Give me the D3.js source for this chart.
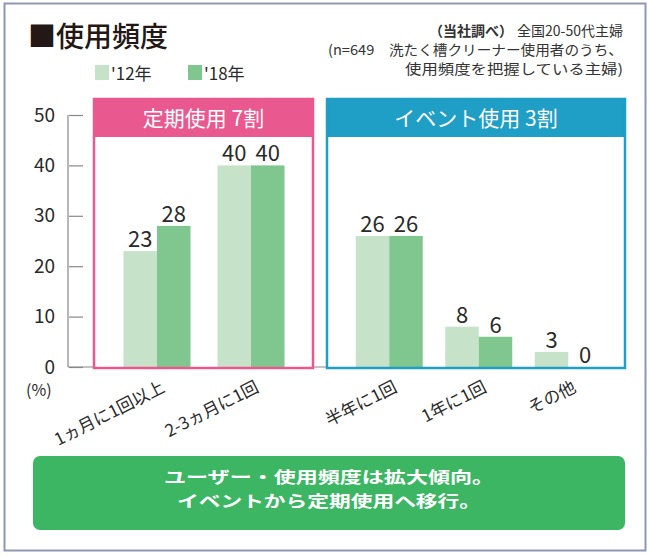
<!DOCTYPE html>
<html><head><meta charset="utf-8">
<script src="https://cdn.jsdelivr.net/npm/d3@7"></script>
<style>
html,body{margin:0;padding:0;background:#fff;}
svg{display:block;font-family:"Noto Sans CJK JP","Noto Sans",sans-serif;}
</style></head>
<body>
<svg id="chart" width="650" height="556"></svg>
<script>
// ---- data ----
const categories = ["1ヵ月に1回以上", "2-3ヵ月に1回", "半年に1回", "1年に1回", "その他"];
const panelCats = [["1ヵ月に1回以上", "2-3ヵ月に1回"], ["半年に1回", "1年に1回", "その他"]];
const panelTitles = ["定期使用 7割", "イベント使用 3割"];
const series = ["'12年", "'18年"];
const values12 = [23, 40, 26, 8, 3];
const values18 = [28, 40, 26, 6, 0];
const yTicks = [0, 10, 20, 30, 40, 50];
const titleText = "■使用頻度";
const noteSource = "（当社調べ）";
const noteLines = ["全国20-50代主婦", "(n=649　洗たく槽クリーナー使用者のうち、", "使用頻度を把握している主婦)"];
const messageLines = ["ユーザー・使用頻度は拡大傾向。", "イベントから定期使用へ移行。"];

// ---- styles ----
const seriesColors = ["#c6e3c9", "#80c68f"];
const panelColors = ["#e9588f", "#1f9ec6"];
const textColor = "#2a2a2a";

const svg = d3.select("#chart");

// outer frame
svg.append("rect").attr("x", 4.5).attr("y", 3.5).attr("width", 641).attr("height", 547)
  .attr("fill", "#fff").attr("stroke", "#8e98b2").attr("stroke-width", 2);

// title
svg.append("text").attr("x", 28).attr("y", 47).attr("font-size", 28).attr("font-weight", 500)
  .attr("fill", "#231815").text(titleText);

// legend
const legX = [95, 188];
series.forEach((s, i) => {
  svg.append("rect").attr("x", legX[i]).attr("y", 65).attr("width", 14).attr("height", 15)
    .attr("fill", seriesColors[i]);
  svg.append("text").attr("x", legX[i] + 16).attr("y", 80).attr("font-size", 17)
    .attr("fill", textColor).text(s);
});

// note (right)
const noteFs = 14;
const n1 = svg.append("text").attr("x", 623).attr("y", 36).attr("font-size", noteFs)
  .attr("text-anchor", "end").attr("fill", "#333").text(noteLines[0]);
const w1 = n1.node().getComputedTextLength();
svg.append("text").attr("x", 623 - w1 - 4).attr("y", 36).attr("font-size", noteFs).attr("font-weight", 700)
  .attr("text-anchor", "end").attr("fill", "#333").text(noteSource);
svg.append("text").attr("x", 623).attr("y", 55).attr("font-size", noteFs)
  .attr("text-anchor", "end").attr("fill", "#333")
  .attr("textLength", 295).attr("lengthAdjust", "spacingAndGlyphs").text(noteLines[1]);
svg.append("text").attr("x", 623).attr("y", 74).attr("font-size", noteFs)
  .attr("text-anchor", "end").attr("fill", "#333")
  .attr("textLength", 218).attr("lengthAdjust", "spacingAndGlyphs").text(noteLines[2]);

// scales
const y = d3.scaleLinear().domain([0, 50]).range([367, 115]);
const x0s = [
  d3.scaleBand().domain(panelCats[0]).range([110, 298]),
  d3.scaleBand().domain(panelCats[1]).range([344.5, 613])
];
const xs = d3.scaleBand().domain(series).range([-33.5, 33.5]);
const cx = c => { const s = panelCats[0].includes(c) ? x0s[0] : x0s[1]; return s(c) + s.bandwidth() / 2; };

// y axis
svg.append("line").attr("x1", 68).attr("x2", 68).attr("y1", y(50)).attr("y2", y(0))
  .attr("stroke", "#888").attr("stroke-width", 1.2);
const yAxis = d3.axisLeft(y).tickValues(yTicks).tickSize(14).tickPadding(14);
const gy = svg.append("g").attr("transform", "translate(83,0)").call(yAxis);
gy.select(".domain").remove();
gy.selectAll(".tick line").attr("stroke", "#888").attr("stroke-width", 1.2);
gy.selectAll(".tick text").attr("font-size", 19).attr("fill", textColor)
  .attr("font-family", "'Noto Sans CJK JP',sans-serif");
svg.append("text").attr("x", 26).attr("y", 396).attr("font-size", 16).attr("fill", textColor).text("(%)");

// baseline
svg.append("line").attr("x1", 68).attr("x2", 625).attr("y1", y(0)).attr("y2", y(0))
  .attr("stroke", "#888").attr("stroke-width", 1.2);

// panels
const panelBox = [[94, 313], [327, 625]];
panelBox.forEach((b, i) => {
  svg.append("rect").attr("x", b[0]).attr("y", 99).attr("width", b[1] - b[0]).attr("height", y(0) + 1 - 99)
    .attr("fill", "#fff");
  svg.append("rect").attr("x", b[0]).attr("y", 99).attr("width", b[1] - b[0]).attr("height", 38)
    .attr("fill", panelColors[i]);
  svg.append("text").attr("x", (b[0] + b[1]) / 2).attr("y", 126).attr("text-anchor", "middle")
    .attr("font-size", 21).attr("fill", "#fff").text(panelTitles[i]);
});

// bars
const valsBySeries = [values12, values18];
categories.forEach((c, ci) => {
  series.forEach((s, si) => {
    const v = valsBySeries[si][ci];
    const bx = cx(c) + xs(s);
    svg.append("rect").attr("x", bx).attr("y", y(v)).attr("width", xs.bandwidth())
      .attr("height", y(0) - y(v)).attr("fill", seriesColors[si]);
    svg.append("text").attr("x", bx + xs.bandwidth() / 2).attr("y", y(v) - 4)
      .attr("text-anchor", "middle").attr("font-size", 22).attr("fill", textColor).text(v);
  });
});

// panel borders on top
panelBox.forEach((b, i) => {
  svg.append("rect").attr("x", b[0]).attr("y", 99).attr("width", b[1] - b[0]).attr("height", y(0) + 1 - 99)
    .attr("fill", "none").attr("stroke", panelColors[i]).attr("stroke-width", 2.5);
});

// category labels
categories.forEach(c => {
  const ax = cx(c) + 9, ay = 391;
  svg.append("text").attr("transform", `translate(${ax},${ay}) rotate(-27)`)
    .attr("text-anchor", "end").attr("font-size", 17).attr("fill", textColor).text(c);
});

// message box
svg.append("rect").attr("x", 33).attr("y", 456).attr("width", 592).attr("height", 74).attr("rx", 7)
  .attr("fill", "#3db664");
messageLines.forEach((t, i) => {
  svg.append("text").attr("x", 329).attr("y", 482.5 + i * 24).attr("text-anchor", "middle")
    .attr("font-size", 16).attr("font-weight", 700).attr("fill", "#fff")
    .attr("textLength", i === 0 ? 330 : 304).attr("lengthAdjust", "spacingAndGlyphs").text(t);
});
</script>
</body></html>
